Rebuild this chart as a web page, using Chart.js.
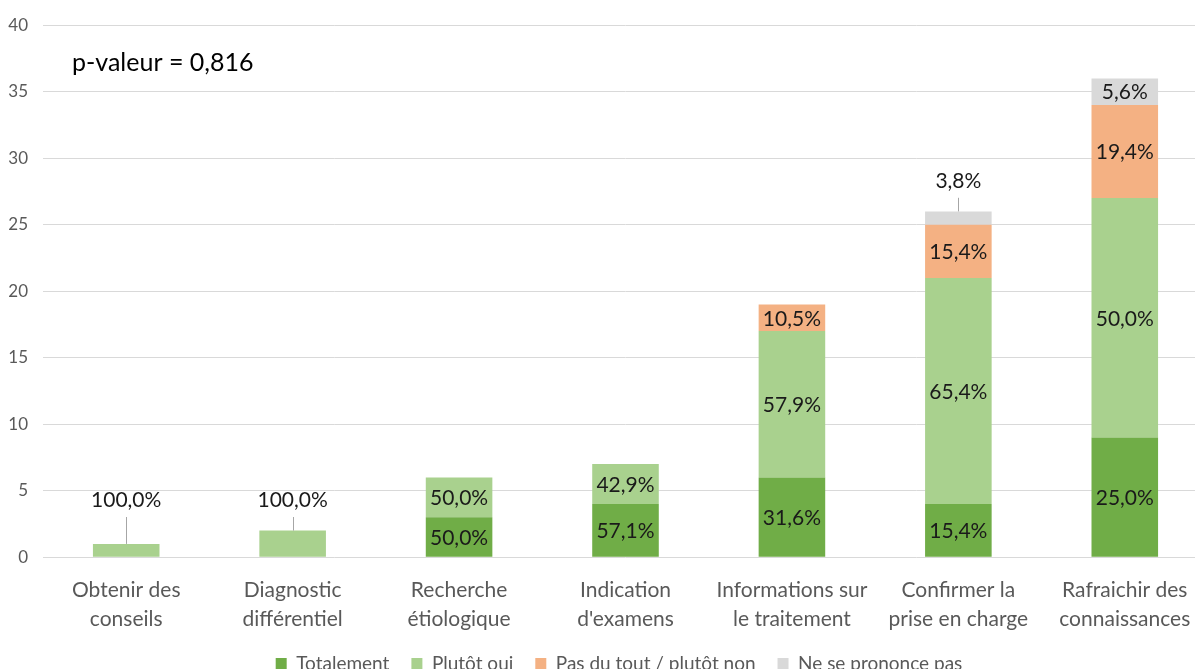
<!DOCTYPE html>
<html>
<head>
<meta charset="utf-8">
<script src="https://cdn.jsdelivr.net/npm/chart.js@4"></script>
<style>
body{margin:0;overflow:hidden;background:#fff;}
#wrap{width:1208px;height:683px;position:relative;}
</style>
</head>
<body>
<div id="wrap"><canvas id="chart"></canvas></div>
<script>
const categories = [
    ["Obtenir des","conseils"],
    ["Diagnostic","différentiel"],
    ["Recherche","étiologique"],
    ["Indication","d'examens"],
    ["Informations sur","le traitement"],
    ["Confirmer la","prise en charge"],
    ["Rafraichir des","connaissances"]
];

const totalement = [0,0,3,4,6,4,9];
const plutotOui = [1,2,3,3,11,17,18];
const pasDuTout = [0,0,0,0,2,4,7];
const nsp = [0,0,0,0,0,1,2];

const yTicks = [0,5,10,15,20,25,30,35,40];

const pValue = "p-valeur = 0,816";

const totals = categories.map((c,i) => totalement[i]+plutotOui[i]+pasDuTout[i]+nsp[i]);

// labels moved out of the bar, with a leader line (dataset, index, y value of label)
const callouts = [
    {ds:1, i:0, y:4.3},
    {ds:1, i:1, y:4.3},
    {ds:3, i:5, y:28.3}
];

const FONT = "Lato, 'Open Sans', sans-serif";
const LEGEND_GAP = 22;

function pct(v,t){
    return (v/t*100).toFixed(1).replace(".",",") + "%";
}

const labelPlugin = {
    id:"segLabels",
    afterLayout(chart){
        // legend sits a little right of centre in the original
        if(chart.legend){
            chart.legend.left += 15;
            chart.legend.right += 15;
        }
    },
    afterDatasetsDraw(chart){
        const ctx = chart.ctx;
        const yScale = chart.scales.y;
        ctx.save();
        ctx.font = "21px " + FONT;
        ctx.fillStyle = "#1a1a1a";
        ctx.textAlign = "center";
        ctx.textBaseline = "middle";
        chart.data.datasets.forEach((ds,di) => {
            const meta = chart.getDatasetMeta(di);
            meta.data.forEach((bar,i) => {
                const v = ds.data[i];
                if(!v) return;
                const txt = pct(v,totals[i]);
                const co = callouts.find(c => c.ds===di && c.i===i);
                if(co){
                    const ly = yScale.getPixelForValue(co.y);
                    ctx.strokeStyle = "#a6a6a6";
                    ctx.lineWidth = 1;
                    ctx.beginPath();
                    ctx.moveTo(Math.round(bar.x)+0.5, bar.y);
                    ctx.lineTo(Math.round(bar.x)+0.5, ly+17);
                    ctx.stroke();
                    ctx.fillText(txt, bar.x, ly);
                }else{
                    ctx.fillText(txt, bar.x, (bar.y+bar.base)/2 + 1);
                }
            });
        });
        ctx.font = "25px " + FONT;
        ctx.textAlign = "left";
        ctx.fillStyle = "#000";
        ctx.fillText(pValue, chart.chartArea.left + 29, yScale.getPixelForValue(37.2));
        ctx.restore();
    }
};

new Chart(document.getElementById("chart"), {
    type:"bar",
    data:{
        labels:categories,
        datasets:[
            {label:"Totalement", data:totalement, backgroundColor:"#70ad47"},
            {label:"Plutôt oui", data:plutotOui, backgroundColor:"#a9d18e"},
            {label:"Pas du tout / plutôt non", data:pasDuTout, backgroundColor:"#f4b183"},
            {label:"Ne se prononce pas", data:nsp, backgroundColor:"#d9d9d9"}
        ]
    },
    options:{
        responsive:true,
        maintainAspectRatio:false,
        animation:false,
        layout:{padding:{left:0, top:13, right:0, bottom:0}},
        datasets:{bar:{categoryPercentage:1, barPercentage:0.4}},
        scales:{
            x:{
                stacked:true,
                afterFit(axis){ axis.height -= (LEGEND_GAP - 10); },
                grid:{display:false},
                border:{display:false},
                ticks:{
                    color:"#595959",
                    font:{family:FONT, size:21, lineHeight:1.4},
                    padding:10,
                    maxRotation:0,
                    autoSkip:false
                }
            },
            y:{
                stacked:true,
                min:0,
                max:40,
                afterBuildTicks(axis){ axis.ticks = yTicks.map(v => ({value:v})); },
                afterFit(axis){ axis.width = 43; },
                grid:{color:"#d9d9d9", drawTicks:false},
                border:{display:false},
                ticks:{
                    color:"#595959",
                    font:{family:FONT, size:17},
                    padding:15
                }
            }
        },
        plugins:{
            legend:{
                position:"bottom",
                labels:{
                    color:"#595959",
                    font:{family:FONT, size:19},
                    boxWidth:11,
                    boxHeight:11,
                    padding:LEGEND_GAP
                }
            },
            tooltip:{enabled:false}
        }
    },
    plugins:[labelPlugin]
});
</script>
</body>
</html>
